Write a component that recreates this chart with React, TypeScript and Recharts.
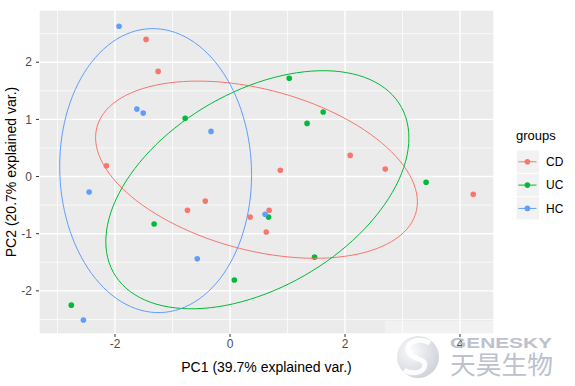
import { ScatterChart, Scatter, XAxis, YAxis, CartesianGrid, ReferenceLine } from 'recharts';

// PCA scores
const cdX = [-1.46, -1.25, -2.15, 0.875, 2.09, 2.7, 4.23, -0.74, -0.43, 0.35, 0.68, 0.63];
const cdY = [2.4, 1.84, 0.19, 0.11, 0.37, 0.13, -0.31, -0.59, -0.43, -0.71, -0.59, -0.97];
const ucX = [-0.78, 1.03, 1.62, 1.34, 3.41, -1.32, 0.075, -2.76, 0.67, 1.47];
const ucY = [1.02, 1.72, 1.13, 0.93, -0.1, -0.83, -1.81, -2.25, -0.71, -1.41];
const hcX = [-1.93, -1.62, -1.51, -0.33, -2.45, -0.57, -2.55, 0.61];
const hcY = [2.63, 1.18, 1.11, 0.79, -0.27, -1.44, -2.51, -0.66];

const groupNames = ['CD', 'UC', 'HC'];
const groupColors = ['#F8766D', '#00BA38', '#619CFF'];

const xTicks = [-2, 0, 2, 4];
const yTicks = [-2, -1, 0, 1, 2];
const xMinor = [-3, -1, 1, 3];
const yMinor = [-2.5, -1.5, -0.5, 0.5, 1.5, 2.5];

const toPoints = (xs: number[], ys: number[]) => xs.map((x, i) => ({ x, y: ys[i] }));

// normal data ellipse, same as ggbiplot (ellipse.prob = 0.68)
function dataEllipse(xs: number[], ys: number[], prob = 0.68) {
  const n = xs.length;
  const mx = xs.reduce((a, b) => a + b, 0) / n;
  const my = ys.reduce((a, b) => a + b, 0) / n;
  let sxx = 0, syy = 0, sxy = 0;
  for (let i = 0; i < n; i++) {
    sxx += (xs[i] - mx) ** 2;
    syy += (ys[i] - my) ** 2;
    sxy += (xs[i] - mx) * (ys[i] - my);
  }
  sxx /= n - 1;
  syy /= n - 1;
  sxy /= n - 1;
  const ed = Math.sqrt(-2 * Math.log(1 - prob));
  const r11 = Math.sqrt(sxx);
  const r12 = sxy / r11;
  const r22 = Math.sqrt(syy - r12 * r12);
  const out: { x: number; y: number }[] = [];
  for (let i = 0; i <= 120; i++) {
    const t = -Math.PI + (2 * Math.PI * i) / 120;
    const c = Math.cos(t);
    const s = Math.sin(t);
    out.push({ x: mx + ed * c * r11, y: my + ed * (c * r12 + s * r22) });
  }
  return out;
}

const groups = [
  { name: groupNames[0], color: groupColors[0], pts: toPoints(cdX, cdY), ell: dataEllipse(cdX, cdY) },
  { name: groupNames[1], color: groupColors[1], pts: toPoints(ucX, ucY), ell: dataEllipse(ucX, ucY) },
  { name: groupNames[2], color: groupColors[2], pts: toPoints(hcX, hcY), ell: dataEllipse(hcX, hcY) },
];

const font = '"Liberation Sans", Arial, sans-serif';

export default function App() {
  return (
    <div style={{ position: 'absolute', left: 0, top: 0, width: 575, height: 386, background: '#fff', fontFamily: font }}>
      <ScatterChart width={575} height={386} margin={{ top: 10, right: 81, left: 0, bottom: 0 }}>
        <CartesianGrid fill="#EBEBEB" fillOpacity={1} stroke="#fff" strokeWidth={1.4} />
        {xMinor.map((v) => (
          <ReferenceLine key={'vx' + v} x={v} stroke="#fff" strokeWidth={0.7} />
        ))}
        {yMinor.map((v) => (
          <ReferenceLine key={'hy' + v} y={v} stroke="#fff" strokeWidth={0.7} />
        ))}
        <XAxis
          type="number"
          dataKey="x"
          domain={[-3.322, 4.591]}
          allowDataOverflow
          ticks={xTicks}
          height={52}
          axisLine={false}
          tickLine={{ stroke: '#333333' }}
          tickSize={3}
          tickMargin={2}
          tick={{ fill: '#4D4D4D', fontSize: 12, fontFamily: font }}
          label={{ value: 'PC1 (39.7% explained var.)', position: 'insideBottom', offset: 14, fill: '#000', fontSize: 14, fontFamily: font }}
        />
        <YAxis
          type="number"
          dataKey="y"
          domain={[-2.755, 2.914]}
          allowDataOverflow
          ticks={yTicks}
          width={39}
          axisLine={false}
          tickLine={{ stroke: '#333333' }}
          tickSize={3}
          tickMargin={4}
          tick={{ fill: '#4D4D4D', fontSize: 12, fontFamily: font }}
          label={{ value: 'PC2 (20.7% explained var.)', angle: -90, position: 'insideLeft', offset: 11, fill: '#000', fontSize: 14, fontFamily: font, style: { textAnchor: 'middle' } }}
        />
        {groups.map((g) => (
          <Scatter
            key={'p' + g.name}
            data={g.pts}
            isAnimationActive={false}
            shape={(p: any) => <circle cx={p.cx} cy={p.cy} r={2.8} fill={g.color} />}
          />
        ))}
        {groups.map((g) => (
          <Scatter
            key={'e' + g.name}
            data={g.ell}
            isAnimationActive={false}
            line={{ stroke: g.color, strokeWidth: 1 }}
            lineType="joint"
            shape={() => <g />}
          />
        ))}
      </ScatterChart>

      <svg width={575} height={386} style={{ position: 'absolute', left: 0, top: 0, pointerEvents: 'none' }}>
        {/* legend */}
        <text x={516} y={140} fontSize={13} fontFamily={font} fill="#000">groups</text>
        {groups.map((g, i) => {
          const top = 150.5 + i * 23.3;
          const cy = top + 11.3;
          return (
            <g key={'lg' + g.name}>
              <rect x={516.7} y={top} width={22.3} height={22.3} fill="#F2F2F2" />
              <line x1={518.3} x2={536.5} y1={cy} y2={cy} stroke={g.color} strokeWidth={1} />
              <circle cx={527.4} cy={cy} r={2.8} fill={g.color} />
              <text x={546} y={cy + 4.3} fontSize={12} fontFamily={font} fill="#000">{g.name}</text>
            </g>
          );
        })}

        {/* watermark */}
        <rect x={385} y={321} width={109} height={13} fill="#fff" opacity={0.3} />
        <defs>
          <radialGradient id="wm" cx="0.35" cy="0.35" r="0.75">
            <stop offset="0" stopColor="#FAFAFB" />
            <stop offset="1" stopColor="#C3C7D0" />
          </radialGradient>
        </defs>
        <circle cx={418} cy={357} r={21} fill="url(#wm)" opacity={0.85} />
        <path d="M430 343 C418 336 402 344 410 354 C416 361 428 358 424 368 C421 374 410 374 404 370" stroke="#fff" strokeWidth={5} fill="none" opacity={0.9} />
        <text x={450} y={348} fontSize={15} fontWeight="bold" fontFamily={font} fill="#BCC1CD" textLength={102} lengthAdjust="spacingAndGlyphs">GENESKY</text>
        <text x={450} y={374} fontSize={25} fontFamily='"Noto Sans CJK SC", sans-serif' fill="#BCC1CD" textLength={103} lengthAdjust="spacingAndGlyphs">天昊生物</text>
      </svg>
    </div>
  );
}
